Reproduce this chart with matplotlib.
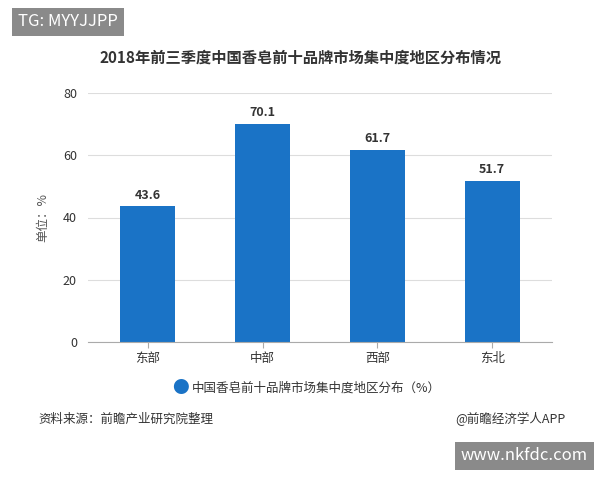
import matplotlib
matplotlib.use('Agg')
import matplotlib.pyplot as plt

plt.rcParams['font.family'] = ['Noto Sans CJK SC', 'DejaVu Sans']

categories = ['东部', '中部', '西部', '东北']
values = [43.6, 70.1, 61.7, 51.7]
yticks = [0, 20, 40, 60, 80]

fig = plt.figure(figsize=(6, 4.8), dpi=100)
ax = fig.add_axes([88/600, 1-342/480, 464/600, 249/480])
bars = ax.bar(range(len(categories)), values, width=0.48, color='#1a73c6')
for i, v in enumerate(values):
    ax.text(i, v + 1.5, f'{v:.1f}', ha='center', va='bottom', fontsize=9, fontweight='bold', color='#333333')
ax.set_xlim(-0.52, 3.52)
ax.set_ylim(0, 80)
ax.set_yticks(yticks)
ax.set_xticks(range(len(categories)))
ax.set_xticklabels(categories, fontsize=9, color='#333333')
ax.tick_params(axis='y', length=0, labelsize=9, colors='#333333', pad=8)
ax.tick_params(axis='x', length=4, color='#aaaaaa')
ax.grid(axis='y', color='#dddddd', linewidth=0.8)
ax.set_axisbelow(True)
for s in ['top', 'right', 'left']:
    ax.spines[s].set_visible(False)
ax.spines['bottom'].set_color('#aaaaaa')
ax.set_ylabel('单位：%', fontsize=9, color='#555555', labelpad=10)

fig.text(0.5, 1-58/480, '2018年前三季度中国香皂前十品牌市场集中度地区分布情况', ha='center', va='center', fontsize=11, fontweight='bold', color='#333333')
fig.text(180/600, 1-388/480, '●', ha='center', va='center', fontsize=12, color='#1a73c6')
fig.text(192/600, 1-388/480, '中国香皂前十品牌市场集中度地区分布（%）', ha='left', va='center', fontsize=9, color='#333333')
fig.text(38/600, 1-419/480, '资料来源：前瞻产业研究院整理', ha='left', va='center', fontsize=9, color='#333333')
fig.text(565/600, 1-419/480, '@前瞻经济学人APP', ha='right', va='center', fontsize=9, color='#333333')

fig.text(18/600, 1-22/480, 'TG: MYYJJPP', ha='left', va='center', fontsize=12, color='white',
         bbox=dict(boxstyle='square,pad=0.35', fc='#8a8a8a', ec='none'))
fig.text(588/600, 1-456/480, 'www.nkfdc.com', ha='right', va='center', fontsize=12, color='white',
         bbox=dict(boxstyle='square,pad=0.35', fc='#8a8a8a', ec='none'))

fig.savefig('out.png', dpi=100)
